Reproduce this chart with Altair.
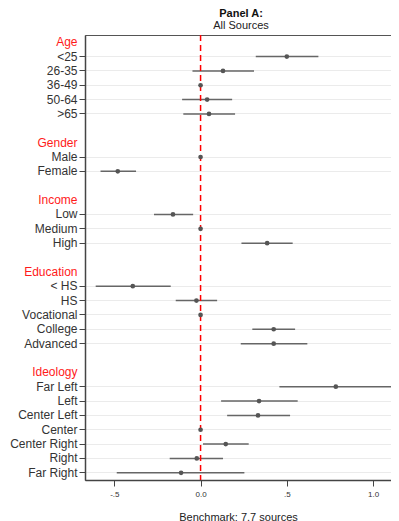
import altair as alt
import pandas as pd

# Row order (headers, items, blank spacers)
rows = ["Age", "<25", "26-35", "36-49", "50-64", ">65", " ",
        "Gender", "Male", "Female", "  ",
        "Income", "Low", "Medium", "High", "   ",
        "Education", "< HS", "HS", "Vocational", "College", "Advanced", "    ",
        "Ideology", "Far Left", "Left", "Center Left", "Center", "Center Right", "Right", "Far Right"]
headers = ["Age", "Gender", "Income", "Education", "Ideology"]
blanks = [" ", "  ", "   ", "    "]

items = ["<25", "26-35", "36-49", "50-64", ">65",
         "Male", "Female",
         "Low", "Medium", "High",
         "< HS", "HS", "Vocational", "College", "Advanced",
         "Far Left", "Left", "Center Left", "Center", "Center Right", "Right", "Far Right"]
estimate = [0.50, 0.13, 0.0, 0.038, 0.049,
            0.0, -0.48,
            -0.16, 0.0, 0.386,
            -0.393, -0.024, 0.0, 0.424, 0.424,
            0.784, 0.339, 0.333, 0.0, 0.146, -0.022, -0.113]
ci_low = [0.32, -0.047, 0.0, -0.107, -0.10,
          0.0, -0.58,
          -0.27, 0.0, 0.237,
          -0.608, -0.144, 0.0, 0.30, 0.233,
          0.457, 0.119, 0.154, 0.0, 0.014, -0.179, -0.486]
ci_high = [0.683, 0.31, 0.0, 0.183, 0.20,
           0.0, -0.374,
           -0.043, 0.0, 0.534,
           -0.173, 0.096, 0.0, 0.548, 0.619,
           1.112, 0.563, 0.519, 0.0, 0.279, 0.13, 0.254]
x_ticks = [-0.5, 0, 0.5, 1]

df = pd.DataFrame({"label": items, "est": estimate, "lo": ci_low, "hi": ci_high})
zero = pd.DataFrame({"z": [0]})

W = 306
H = 445
xscale = alt.Scale(domain=[-0.67, 1.104], nice=False, zero=False)

nonitem = headers + blanks
nonitem_js = "[" + ",".join("'" + s + "'" for s in nonitem) + "]"
header_js = "[" + ",".join("'" + s + "'" for s in headers) + "]"

yenc = alt.Y("label:N", sort=None,
             scale=alt.Scale(domain=rows, paddingInner=0, paddingOuter=0),
             axis=alt.Axis(title=None, labelFontSize=12, labelPadding=2,
                           labelColor={"condition": {"test": f"indexof({header_js}, datum.value) >= 0", "value": "#ff1a1a"}, "value": "#333333"},
                           tickOpacity={"condition": {"test": f"indexof({nonitem_js}, datum.value) >= 0", "value": 0}, "value": 1},
                           gridOpacity={"condition": {"test": f"indexof({nonitem_js}, datum.value) >= 0", "value": 0}, "value": 1},
                           grid=True, gridColor="#ebebeb", gridWidth=1,
                           tickColor="#444", tickSize=6, tickWidth=1,
                           domainColor="#444", domainWidth=1.5))

xenc_axis = alt.Axis(title="Benchmark: 7.7 sources", values=x_ticks, grid=False,
                     labelExpr="datum.value == -0.5 ? '-.5' : datum.value == 0.5 ? '.5' : datum.label",
                     labelFontSize=8, labelColor="#333", labelPadding=4,
                     tickColor="#444", tickSize=6, tickWidth=1,
                     domainColor="#444", domainWidth=1.5,
                     titleFontSize=11, titleFontWeight="normal", titleColor="#222", titlePadding=13)

base = alt.Chart(df)

bars = base.mark_rule(color="#666666", strokeWidth=1.5).encode(
    x=alt.X("lo:Q", scale=xscale, axis=xenc_axis),
    x2="hi:Q",
    y=yenc,
)
zline = alt.Chart(zero).mark_rule(color="#ff0000", strokeWidth=1.5, strokeDash=[6, 4]).encode(
    x=alt.X("z:Q", scale=xscale)
)
pts = base.mark_point(filled=True, color="#555555", size=22, opacity=1).encode(
    x=alt.X("est:Q", scale=xscale),
    y=alt.Y("label:N", sort=None),
)

chart = alt.layer(bars, zline, pts).properties(
    width=W, height=H,
    autosize=alt.AutoSizeParams(type="none"),
    padding={"left": 77, "top": 27, "right": 0, "bottom": 41},
    title=alt.TitleParams("Panel A:", subtitle="All Sources", fontSize=11, fontWeight="bold",
                          subtitleFontSize=11, subtitleColor="#222", color="#111",
                          anchor="middle", offset=3, subtitlePadding=1, dx=3,
                          font="Liberation Sans", subtitleFont="Liberation Sans"),
).configure(font="Liberation Sans").configure_view(stroke="#555", strokeWidth=1)

chart.save("out.html", embed_options={"renderer": "svg", "actions": False})
